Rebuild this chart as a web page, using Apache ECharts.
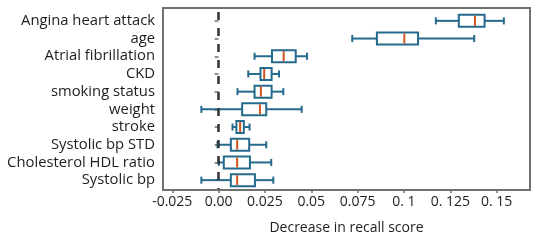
<!DOCTYPE html>
<html>
<head>
<meta charset="utf-8">
<script src="https://cdn.jsdelivr.net/npm/echarts@6/dist/echarts.min.js"></script>
<style>html,body{margin:0;padding:0;background:#fff}#c{width:536px;height:240px}</style>
</head>
<body>
<div id="c"></div>
<script>
var categories = ["Angina heart attack","age","Atrial fibrillation","CKD","smoking status","weight","stroke","Systolic bp STD","Cholesterol HDL ratio","Systolic bp"];
var whiskerLow = [0.1172, 0.0721, 0.0194, 0.0160, 0.0102, -0.0093, 0.0075, -0.0006, 0.0001, -0.0093];
var q1Values   = [0.1296, 0.0854, 0.0288, 0.0226, 0.0194, 0.0127, 0.0096, 0.0066, 0.0028, 0.0066];
var medians    = [0.1383, 0.1002, 0.0351, 0.0246, 0.0228, 0.0223, 0.0116, 0.0100, 0.0100, 0.0100];
var q3Values   = [0.1435, 0.1076, 0.0416, 0.0286, 0.0286, 0.0257, 0.0136, 0.0165, 0.0169, 0.0196];
var whiskerHigh= [0.1539, 0.1379, 0.0477, 0.0326, 0.0349, 0.0448, 0.0167, 0.0257, 0.0284, 0.0295];
var tickValues = [-0.025, 0, 0.025, 0.05, 0.075, 0.1, 0.125, 0.15];
var tickLabels = ["-0.025", "0.00", "0.025", "0.05", "0.075", "0. 1", "0. 125", "0. 15"];
var xTitle = "Decrease in recall score";

var boxData = categories.map(function (c, i) {
  return [i, whiskerLow[i], q1Values[i], medians[i], q3Values[i], whiskerHigh[i]];
});

var BOX = '#256a8d', MED = '#cf5420', FONT = 'Open Sans';

function renderBox(params, api) {
  var ci = api.value(0);
  var pLow = api.coord([api.value(1), ci]);
  var pQ1 = api.coord([api.value(2), ci]);
  var pMed = api.coord([api.value(3), ci]);
  var pQ3 = api.coord([api.value(4), ci]);
  var pHigh = api.coord([api.value(5), ci]);
  var y = pMed[1];
  var band = api.size([0, 1])[1];
  var hb = band * 0.34, hc = band * 0.2;
  var ls = {stroke: BOX, lineWidth: 2, fill: null};
  return {
    type: 'group',
    children: [
      {type: 'line', shape: {x1: pLow[0], y1: y, x2: pQ1[0], y2: y}, style: ls},
      {type: 'line', shape: {x1: pQ3[0], y1: y, x2: pHigh[0], y2: y}, style: ls},
      {type: 'line', shape: {x1: pLow[0], y1: y - hc, x2: pLow[0], y2: y + hc}, style: ls},
      {type: 'line', shape: {x1: pHigh[0], y1: y - hc, x2: pHigh[0], y2: y + hc}, style: ls},
      {type: 'rect', shape: {x: pQ1[0], y: y - hb, width: pQ3[0] - pQ1[0], height: 2 * hb}, style: {stroke: BOX, lineWidth: 2, fill: '#fff'}},
      {type: 'line', shape: {x1: pMed[0], y1: y - hb + 1, x2: pMed[0], y2: y + hb - 1}, style: {stroke: MED, lineWidth: 2}}
    ]
  };
}

var chart = echarts.init(document.getElementById('c'), null, {renderer: 'canvas'});
chart.setOption({
  animation: false,
  textStyle: {fontFamily: FONT},
  grid: [
    {left: 163, right: 6, top: 8, bottom: 50, show: true, borderColor: '#707070', borderWidth: 2, backgroundColor: 'transparent'},
    {left: 163, right: 6, top: 12, bottom: 50}
  ],
  xAxis: [
    {gridIndex: 0, show: false, type: 'value', min: 0, max: 1},
    {gridIndex: 1, type: 'value', min: -0.03, max: 0.168,
      axisLine: {show: false},
      splitLine: {show: false},
      axisTick: {show: true, length: 4, customValues: tickValues, lineStyle: {color: '#707070', width: 1.5}},
      axisLabel: {customValues: tickValues, margin: 6, fontFamily: FONT, fontSize: 14, color: '#1e1e1e',
        formatter: function (v) {
          for (var k = 0; k < tickValues.length; k++) { if (Math.abs(tickValues[k] - v) < 1e-9) return tickLabels[k]; }
          return '';
        }},
      name: xTitle, nameLocation: 'middle', nameGap: 32,
      nameTextStyle: {fontFamily: FONT, fontSize: 14, color: '#1e1e1e'}
    }
  ],
  yAxis: [
    {gridIndex: 0, show: false, type: 'value', min: 0, max: 1},
    {gridIndex: 1, type: 'category', data: categories, inverse: true,
      axisLine: {show: false},
      axisTick: {show: true, alignWithLabel: true, interval: 0, length: 4, lineStyle: {color: '#707070', width: 1.5}},
      axisLabel: {interval: 0, margin: 8, fontFamily: FONT, fontSize: 14.8, color: '#1e1e1e'}
    }
  ],
  series: [{
    type: 'custom',
    xAxisIndex: 1, yAxisIndex: 1,
    renderItem: renderBox,
    encode: {x: [1, 2, 3, 4, 5], y: 0},
    data: boxData,
    silent: true,
    markLine: {
      silent: true, symbol: 'none', label: {show: false},
      lineStyle: {color: '#333', type: [8, 8], width: 2.5},
      data: [{xAxis: 0}]
    }
  }]
});
</script>
</body>
</html>
